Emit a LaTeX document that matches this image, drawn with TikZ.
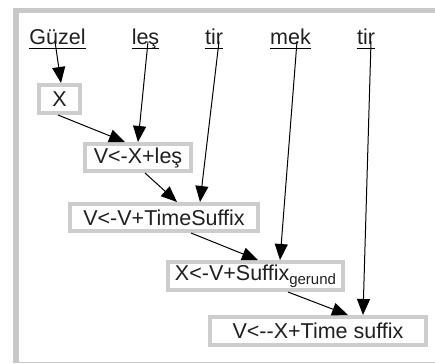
\documentclass[tikz,border=0pt]{standalone}
\usepackage{fontspec}
\setmainfont{Liberation Sans}[Ligatures=NoCommon]
\usetikzlibrary{arrows.meta}
\definecolor{framegray}{HTML}{C8C8C8}
\definecolor{boxgray}{HTML}{CDCDCD}
\definecolor{inkgray}{HTML}{202020}
\begin{document}
\begin{tikzpicture}[x=1pt,y=-1pt,
  word/.style={inner sep=0pt,anchor=base,text=inkgray,font=\fontsize{21.5}{24}\selectfont},
  rulebox/.style={draw=boxgray,line width=4pt,inner sep=0pt,fill=white,text=inkgray,
    font=\fontsize{21.5}{24}\selectfont},
  uline/.style={line width=1pt},
  arr/.style={line width=1pt,-{Triangle[length=16pt,width=13pt]}}]
\useasboundingbox (0,0) rectangle (435,363);
% frame
\fill[framegray] (13,8) rectangle (435,13);
\fill[framegray] (13,8) rectangle (19,363);
\draw[framegray,line width=0.8pt] (19,362) -- (435,362);
% words
\node[word] (w1) at (57.5,45) {Güzel};
\node[word] (w2) at (145.5,45) {leş};
\node[word] (w3) at (214,45) {tir};
\node[word] (w4) at (290.5,45) {mek};
\node[word] (w5) at (366,45) {tir};
\foreach \w in {w1,w2,w3,w4,w5}
  \draw[uline] ([yshift=-3.5pt]\w.base west) -- ([yshift=-3.5pt]\w.base east);
% boxes
\node[rulebox,minimum width=41pt,minimum height=28pt] (bx) at (59.5,99) {X};
\node[rulebox,minimum width=106pt,minimum height=27pt] (bl) at (138,157.5) {V<-X+leş};
\node[rulebox,minimum width=188pt,minimum height=27pt] (bt) at (164,217.5) {V<-V+TimeSuffix};
\node[rulebox,minimum width=175pt,minimum height=28pt] (bg) at (255.5,276) {X<-V+Suffix\raisebox{-0.35ex}{\fontsize{15}{17}\selectfont gerund}};
\node[rulebox,minimum width=216pt,minimum height=28pt] (bs) at (318,331) {V<-{}-X+Time suffix};
% arrows
\draw[arr] ([shift={(-2.5,-3.5)}]w1.base) -- ([xshift=1.5pt]bx.north);
\draw[arr] ([shift={(2.5,-3.5)}]w2.base) -- ([xshift=0pt]bl.north);
\draw[arr] ([xshift=-1.5pt]bx.south) -- ([xshift=-13pt]bl.north);
\draw[arr] ([shift={(5,-3.5)}]w3.base) -- ([xshift=36pt]bt.north);
\draw[arr] ([xshift=7pt]bl.south) -- ([xshift=13pt]bt.north);
\draw[arr] ([shift={(6.5,-3.5)}]w4.base) -- ([xshift=24.5pt]bg.north);
\draw[arr] ([xshift=27pt]bt.south) -- ([xshift=2.5pt]bg.north);
\draw[arr] ([shift={(5,-3.5)}]w5.base) -- ([xshift=45pt]bs.north);
\draw[arr] ([xshift=32.5pt]bg.south) -- ([xshift=30pt]bs.north);
\end{tikzpicture}
\end{document}
